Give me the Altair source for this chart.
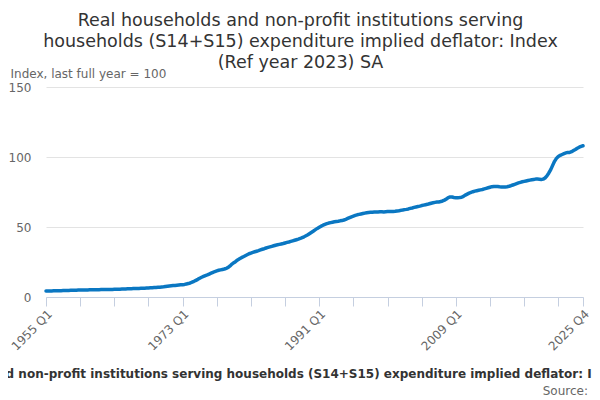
import altair as alt
import pandas as pd

years = list(range(1955, 2026))
quarters = [f"{y} Q{q}" for y in years for q in range(1, 5)]

values = [
    4.30, 4.32, 4.34, 4.36,   # 1955
    4.40, 4.44, 4.48, 4.52,   # 1956
    4.55, 4.58, 4.62, 4.65,   # 1957
    4.70, 4.74, 4.78, 4.82,   # 1958
    4.88, 4.95, 5.00, 5.02,   # 1959
    5.04, 5.06, 5.08, 5.10,   # 1960
    5.12, 5.15, 5.18, 5.21,   # 1961
    5.24, 5.27, 5.30, 5.32,   # 1962
    5.34, 5.36, 5.38, 5.40,   # 1963
    5.45, 5.50, 5.55, 5.60,   # 1964
    5.66, 5.72, 5.78, 5.84,   # 1965
    5.90, 5.96, 6.02, 6.08,   # 1966
    6.12, 6.16, 6.20, 6.26,   # 1967
    6.32, 6.40, 6.48, 6.56,   # 1968
    6.65, 6.74, 6.83, 6.92,   # 1969
    7.02, 7.15, 7.30, 7.50,   # 1970
    7.70, 7.88, 8.02, 8.15,   # 1971
    8.25, 8.38, 8.52, 8.68,   # 1972
    8.80, 9.00, 9.30, 9.60,   # 1973
    10.0, 10.6, 11.2, 11.9,   # 1974
    12.6, 13.4, 14.1, 14.7,   # 1975
    15.3, 15.8, 16.4, 17.0,   # 1976
    17.6, 18.2, 18.7, 19.1,   # 1977
    19.4, 19.7, 20.0, 20.5,   # 1978
    21.1, 22.2, 23.5, 24.5,   # 1979
    25.4, 26.5, 27.3, 28.1,   # 1980
    28.8, 29.5, 30.2, 30.9,   # 1981
    31.4, 31.9, 32.3, 32.7,   # 1982
    33.1, 33.6, 34.1, 34.5,   # 1983
    35.0, 35.4, 35.8, 36.2,   # 1984
    36.6, 37.0, 37.3, 37.6,   # 1985
    37.9, 38.2, 38.6, 39.0,   # 1986
    39.3, 39.7, 40.1, 40.5,   # 1987
    40.9, 41.3, 41.8, 42.4,   # 1988
    43.0, 43.7, 44.5, 45.4,   # 1989
    46.3, 47.2, 48.1, 49.0,   # 1990
    49.8, 50.6, 51.3, 51.9,   # 1991
    52.4, 52.8, 53.1, 53.4,   # 1992
    53.7, 53.9, 54.1, 54.4,   # 1993
    54.6, 55.0, 55.5, 56.1,   # 1994
    56.7, 57.3, 57.8, 58.3,   # 1995
    58.7, 59.0, 59.3, 59.6,   # 1996
    59.9, 60.2, 60.4, 60.5,   # 1997
    60.6, 60.7, 60.8, 60.8,   # 1998
    60.9, 60.9, 60.8, 60.9,   # 1999
    61.0, 61.0, 61.1, 61.1,   # 2000
    61.2, 61.4, 61.6, 61.9,   # 2001
    62.1, 62.4, 62.6, 62.9,   # 2002
    63.3, 63.6, 64.0, 64.3,   # 2003
    64.6, 64.9, 65.3, 65.6,   # 2004
    65.9, 66.2, 66.6, 67.0,   # 2005
    67.3, 67.6, 67.8, 67.9,   # 2006
    68.2, 68.6, 69.2, 70.0,   # 2007
    71.0, 71.5, 71.4, 71.1,   # 2008
    70.9, 70.9, 71.0, 71.2,   # 2009
    71.9, 72.8, 73.5, 74.2,   # 2010
    74.7, 75.2, 75.6, 75.9,   # 2011
    76.2, 76.5, 76.8, 77.2,   # 2012
    77.6, 78.0, 78.4, 78.8,   # 2013
    79.0, 79.0, 78.9, 78.7,   # 2014
    78.6, 78.6, 78.6, 78.8,   # 2015
    79.1, 79.5, 80.0, 80.5,   # 2016
    81.0, 81.5, 81.9, 82.3,   # 2017
    82.6, 82.9, 83.2, 83.5,   # 2018
    83.8, 84.0, 84.2, 84.2,   # 2019
    84.1, 84.0, 84.2, 85.0,   # 2020
    86.5, 88.6, 91.0, 94.0,   # 2021
    96.9, 99.0, 100.4, 101.2, # 2022
    101.8, 102.4, 102.9, 103.3,  # 2023
    103.3, 103.8, 104.6, 105.4,  # 2024
    106.3, 107.0, 107.6, 108.0,  # 2025
]

tick_labels = ["1955 Q1", "1973 Q1", "1991 Q1", "2009 Q1", "2025 Q4"]
tick_positions = quarters[::18] + [quarters[-1]]
y_ticks = [0, 50, 100, 150]

title_lines = [
    "Real households and non-profit institutions serving",
    "households (S14+S15) expenditure implied deflator: Index",
    "(Ref year 2023) SA",
]
x_title = ("Real households and non-profit institutions serving households "
           "(S14+S15) expenditure implied deflator: Index (Ref year 2023) SA")
y_title = "Index, last full year = 100"
source_text = ["Source:"]

df = pd.DataFrame({"quarter": quarters, "value": values})
label_js = "[" + ",".join(f"'{t}'" for t in tick_labels) + "]"

FONT = "DejaVu Sans"

line = alt.Chart(df).mark_line(
    color="#0a77c2", strokeWidth=3.5, strokeCap="round", strokeJoin="round"
).encode(
    x=alt.X(
        "quarter:O", sort=None,
        scale=alt.Scale(type="point", padding=0),
        axis=alt.Axis(
            values=tick_positions,
            labelExpr=f"indexof({label_js}, datum.value) >= 0 ? datum.value : ''",
            labelAngle=-45, labelFontSize=12, labelColor="#666666",
            labelPadding=2, labelOverlap=False,
            grid=False, domainColor="#c5cfe0", tickColor="#c5cfe0", tickSize=9,
            title=x_title, titleFontWeight="bold", titleFontSize=12,
            titleColor="#333333", titleY=80, titleBaseline="alphabetic",
        ),
    ),
    y=alt.Y(
        "value:Q",
        scale=alt.Scale(domain=[0, 150], nice=False, zero=True),
        axis=alt.Axis(
            values=y_ticks, domain=False, ticks=False, labelPadding=15,
            labelFontSize=12, labelColor="#666666", gridColor="#e3e3e3",
            title=y_title, titleAngle=0, titleAlign="left", titleX=-36,
            titleY=-10, titleBaseline="alphabetic", titleFontWeight="normal",
            titleFontSize=12, titleColor="#666666",
        ),
    ),
)

source = alt.Chart(pd.DataFrame({"t": source_text})).mark_text(
    align="right", baseline="alphabetic", fontSize=12, color="#666666", font=FONT
).encode(text="t:N", x=alt.value(542), y=alt.value(308))

chart = alt.layer(line, source).properties(
    width=537, height=210,
    title=alt.TitleParams(
        title_lines, anchor="middle", fontSize=17.5, fontWeight="normal",
        color="#333333", font=FONT, lineHeight=21, dx=-14, offset=-4,
    ),
    padding={"left": 38, "top": 79, "right": 9, "bottom": 103},
    autosize=alt.AutoSizeParams(type="none"),
).configure(font=FONT).configure_view(stroke=None)

chart.save("out.html", embed_options={"renderer": "svg", "actions": False})
